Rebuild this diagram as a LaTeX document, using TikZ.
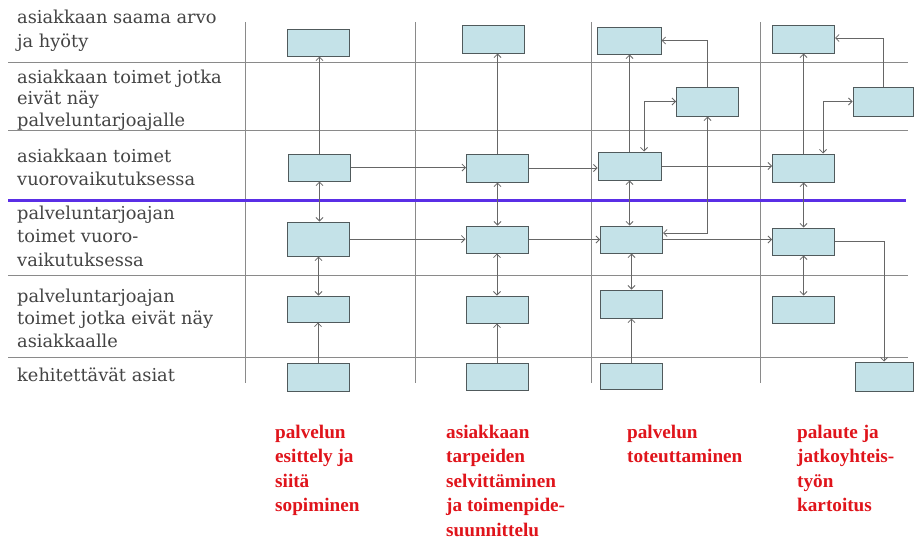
\documentclass[tikz,border=0pt]{standalone}
\usepackage{fontspec}
\setmainfont{DejaVu Serif}
\newfontfamily\redfont{Liberation Serif}
\usetikzlibrary{arrows.meta}
\definecolor{boxfill}{HTML}{C4E2E8}
\definecolor{boxline}{HTML}{505A5C}
\definecolor{gridgray}{HTML}{8A8A8A}
\definecolor{connline}{HTML}{666666}
\definecolor{bluel}{HTML}{5A2EE6}
\definecolor{labelgray}{HTML}{444444}
\definecolor{redtxt}{HTML}{E0141B}
\begin{document}
\begin{tikzpicture}[x=1pt,y=-1pt,
  box/.style={draw=boxline, fill=boxfill, line width=1pt, minimum width=62pt, minimum height=27pt, inner sep=0pt},
  conn/.style={draw=connline, line width=0.8pt},
  arr/.style={conn, -{Straight Barb[length=3.5pt,width=7pt]}},
  dbl/.style={conn, {Straight Barb[length=3.5pt,width=7pt]}-{Straight Barb[length=3.5pt,width=7pt]}},
  gridline/.style={draw=gridgray, line width=1pt},
  lab/.style={anchor=base west, inner sep=0pt, align=left, text=labelgray, font=\fontsize{17.8}{#1}\selectfont},
  lab/.default={22.5},
  phase/.style={anchor=base west, inner sep=0pt, align=left, text=redtxt, font=\redfont\bfseries\fontsize{19.2}{24.5}\selectfont}]
\useasboundingbox (0,0) rectangle (915,542);
\fill[white] (0,0) rectangle (915,542);
% grid
\foreach \yy in {62,130,275,357} \draw[gridline] (8,\yy) -- (908,\yy);
\foreach \xx in {245,415,591,760} \draw[gridline] (\xx,22) -- (\xx,383);
\draw[bluel, line width=3pt] (8,200) -- (906,200);
% row labels (positioned at the baseline of their last line)
\node[lab=24] (l1) at (17,47) {asiakkaan saama arvo\\ja hyöty};
\node[lab=21.5] (l2) at (17,126) {asiakkaan toimet jotka\\eivät näy\\palveluntarjoajalle};
\node[lab=23] (l3) at (17,185) {asiakkaan toimet\\vuorovaikutuksessa};
\node[lab=23.5] (l4) at (17,266) {palveluntarjoajan\\toimet vuoro-\\vaikutuksessa};
\node[lab=22.5] (l5) at (17,347) {palveluntarjoajan\\toimet jotka eivät näy\\asiakkaalle};
\node[lab] (l6) at (17,381) {kehitettävät asiat};
% boxes column 1
\node[box] (c1r1) at (318,42.5) {};
\node[box] (c1r3) at (319.5,167.5) {};
\node[box, minimum height=34pt] (c1r4) at (318.5,239) {};
\node[box, minimum height=26pt] (c1r5) at (318,309) {};
\node[box, minimum height=28pt] (c1r6) at (318,377) {};
% column 2
\node[box, minimum height=28pt] (c2r1) at (493,39) {};
\node[box, minimum height=28pt] (c2r3) at (497.5,168) {};
\node[box] (c2r4) at (497,239.5) {};
\node[box] (c2r5) at (497,309.5) {};
\node[box] (c2r6) at (497,376.5) {};
% column 3
\node[box, minimum width=64pt] (c3r1) at (629,40.5) {};
\node[box, minimum height=29pt] (c3r2) at (707.5,101.5) {};
\node[box, minimum width=63pt, minimum height=28pt] (c3r3) at (629.5,166) {};
\node[box] (c3r4) at (631.5,239.5) {};
\node[box, minimum height=28pt] (c3r5) at (631.5,304) {};
\node[box, minimum height=26pt] (c3r6) at (631.5,376) {};
% column 4
\node[box, minimum height=28pt] (c4r1) at (803.5,39) {};
\node[box, minimum width=60pt, minimum height=29pt] (c4r2) at (883,101.5) {};
\node[box, minimum height=28pt] (c4r3) at (803.5,168) {};
\node[box] (c4r4) at (803.5,241.5) {};
\node[box] (c4r5) at (803.5,309.5) {};
\node[box, minimum width=58pt, minimum height=29pt] (c4r6) at (884,376.5) {};
% vertical connectors
\foreach \c in {c1,c2,c3,c4} {
  \draw[arr] (\c r3.north) -- (\c r3.north |- \c r1.south);
  \draw[dbl] (\c r3.south) -- (\c r3.south |- \c r4.north);
  \draw[dbl] (\c r4.south) -- (\c r4.south |- \c r5.north);
}
\foreach \c in {c1,c2,c3} {
  \draw[arr] (\c r6.north) -- (\c r6.north |- \c r5.south);
}
% horizontal connectors
\draw[arr] (c1r3.east) -- (c1r3.east -| c2r3.west);
\draw[arr] (c1r4.east) -- (c1r4.east -| c2r4.west);
\draw[arr] (c2r3.east) -- (c2r3.east -| c3r3.west);
\draw[arr] (c2r4.east) -- (c2r4.east -| c3r4.west);
\draw[arr] (c3r3.east) -- (c3r3.east -| c4r3.west);
\draw[arr] (c3r4.east) -- (c3r4.east -| c4r4.west);
% elbows column 3
\draw[dbl] ([xshift=14.5pt]c3r3.north) |- (c3r2.west);
\draw[arr] (c3r2.north) |- (c3r1.east);
\draw[dbl] (c3r2.south) |- ([yshift=6.5pt]c3r4.east);
% elbows column 4
\draw[dbl] ([xshift=19.5pt]c4r3.north) |- (c4r2.west);
\draw[arr] (c4r2.north) |- ([yshift=1pt]c4r1.east);
\draw[arr] (c4r4.east) -| (c4r6.north);
% phase labels (positioned at the baseline of their last line)
\node[phase] (p1) at (275,511.5) {palvelun\\esittely ja\\siitä\\sopiminen};
\node[phase] (p2) at (446,536) {asiakkaan\\tarpeiden\\selvittäminen\\ja toimenpide-\\suunnittelu};
\node[phase] (p3) at (627,462.5) {palvelun\\toteuttaminen};
\node[phase] (p4) at (797,511.5) {palaute ja\\jatkoyhteis-\\työn\\kartoitus};
\end{tikzpicture}
\end{document}
